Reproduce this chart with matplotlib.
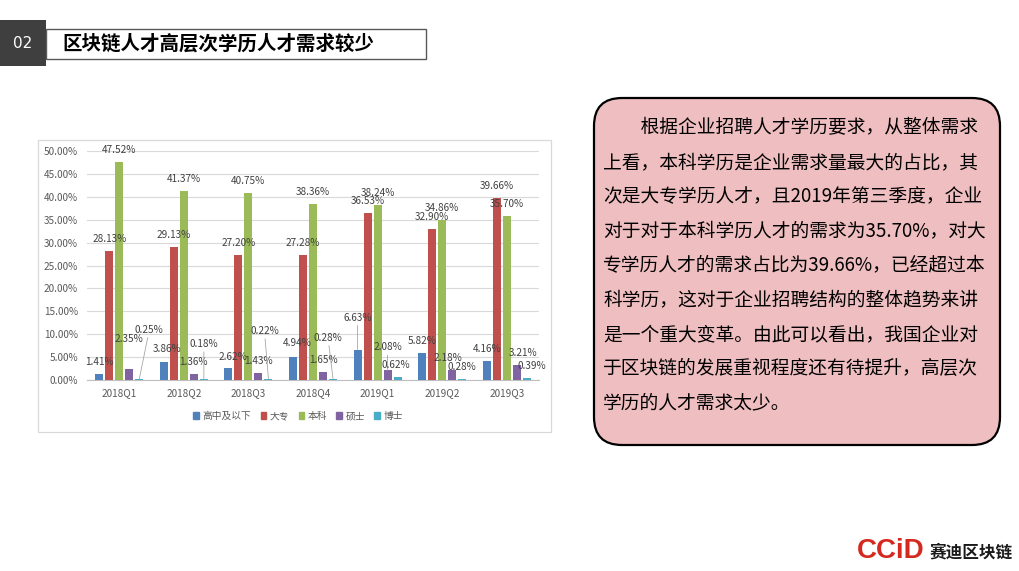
import matplotlib
matplotlib.use('Agg')
import numpy as np
import matplotlib.pyplot as plt
from matplotlib.patches import Rectangle, FancyBboxPatch, Patch

plt.rcParams['font.family'] = ['Noto Sans CJK SC', 'DejaVu Sans']

# 数据
quarters = ['2018Q1', '2018Q2', '2018Q3', '2018Q4', '2019Q1', '2019Q2', '2019Q3']
levels = ['高中及以下', '大专', '本科', '硕士', '博士']
high_school = [1.41, 3.86, 2.62, 4.94, 6.63, 5.82, 4.16]
junior_college = [28.13, 29.13, 27.20, 27.28, 36.53, 32.90, 39.66]
bachelor = [47.52, 41.37, 40.75, 38.36, 38.24, 34.86, 35.70]
master = [2.35, 1.36, 1.43, 1.65, 2.08, 2.18, 3.21]
doctor = [0.25, 0.18, 0.22, 0.28, 0.62, 0.28, 0.39]
series = [high_school, junior_college, bachelor, master, doctor]
colors = ['#4F81BD', '#C0504D', '#9BBB59', '#8064A2', '#4BACC6']

title = '区块链人才高层次学历人才需求较少'
paragraph = [
    '\u3000\u3000根据企业招聘人才学历要求，从整体需求',
    '上看，本科学历是企业需求量最大的占比，其',
    '次是大专学历人才，且2019年第三季度，企业',
    '对于对于本科学历人才的需求为35.70%，对大',
    '专学历人才的需求占比为39.66%，已经超过本',
    '科学历，这对于企业招聘结构的整体趋势来讲',
    '是一个重大变革。由此可以看出，我国企业对',
    '于区块链的发展重视程度还有待提升，高层次',
    '学历的人才需求太少。',
]

# 标签偏移 (series, quarter): (dx px, dy px, 引导线)
label_moves = {
    (3, 0): (0, 30, False),
    (4, 0): (10, 49, True),
    (0, 1): (3, 13, False),
    (4, 1): (0, 35, True),
    (0, 2): (5, 11, False),
    (4, 2): (-4, 48, True),
    (0, 3): (4, 14, False),
    (4, 3): (-5, 41, True),
    (0, 4): (0, 32, True),
    (3, 4): (0, 23, True),
    (4, 4): (-2, 12, False),
    (3, 5): (-4, 12, False),
    (3, 6): (6, 12, False),
    (4, 6): (5, 12, False),
}

W, H = 1019, 571
fig = plt.figure(figsize=(W / 100, H / 100), dpi=100)

bg = fig.add_axes([0, 0, 1, 1])
bg.set_xlim(0, W)
bg.set_ylim(H, 0)
bg.axis('off')

# 标题栏
bg.add_patch(Rectangle((0, 20), 46, 46, fc='#3F3F3F', ec='none'))
bg.text(23, 43, '02', color='white', fontsize=11, ha='center', va='center',
        family=['DejaVu Sans'])
bg.add_patch(Rectangle((46, 29), 380, 30, fill=False, ec='#595959', lw=1))
bg.text(62, 44, title, fontsize=14, weight='bold', ha='left', va='center', color='black')

# 图表外框
bg.add_patch(Rectangle((38, 140), 513, 292, fc='white', ec='#D9D9D9', lw=0.9))

# 文字框
bg.add_patch(FancyBboxPatch((594, 98), 406, 347,
                            boxstyle='round,pad=0,rounding_size=28',
                            fc='#EFBEC0', ec='black', lw=1.6))
for i, line in enumerate(paragraph):
    bg.text(603, 128 + 34.4 * i, line, fontsize=13.5, ha='left', va='center', color='black')

# logo
bg.text(857, 551, 'CCiD', color='#D5281F', fontsize=20, weight='bold',
        ha='left', va='center', family=['Liberation Sans', 'DejaVu Sans'])
bg.text(930, 552, '赛迪区块链', color='#1A1A1A', fontsize=12, weight='bold',
        ha='left', va='center')

# 柱状图
ax = fig.add_axes([87 / W, 1 - 380 / H, 452 / W, 229 / H])
ax.set_zorder(2)
ax.patch.set_alpha(0)
x = np.arange(len(quarters))
step = 0.155
width = 0.124
for i, vals in enumerate(series):
    xs = x + (i - 2) * step
    ax.bar(xs, vals, width=width, color=colors[i], zorder=3)
    for j, v in enumerate(vals):
        dx, dy, lead = label_moves.get((i, j), (0, 12, False))
        kw = {}
        if lead:
            kw['arrowprops'] = dict(arrowstyle='-', color='#A6A6A6', lw=0.6,
                                    shrinkA=0, shrinkB=0)
        ax.annotate(f'{v:.2f}%', xy=(xs[j], v), xytext=(dx * 0.72, dy * 0.72),
                    textcoords='offset points', ha='center', va='center',
                    fontsize=7.2, color='#404040', zorder=4, **kw)

ax.set_xlim(-0.5, len(quarters) - 0.5)
ax.set_ylim(0, 50)
yt = np.arange(0, 51, 5)
ax.set_yticks(yt)
ax.set_yticklabels([f'{v:.2f}%' for v in yt])
ax.set_xticks(x)
ax.set_xticklabels(quarters)
ax.tick_params(length=0, labelsize=7.2, colors='#595959')
ax.tick_params(axis='y', pad=6.5)
ax.tick_params(axis='x', pad=6)
ax.grid(axis='y', color='#D9D9D9', lw=0.8, zorder=0)
for s in ['left', 'right', 'top']:
    ax.spines[s].set_visible(False)
ax.spines['bottom'].set_color('#BFBFBF')
ax.spines['bottom'].set_linewidth(0.8)

handles = [Patch(color=c) for c in colors]
leg = fig.legend(handles, levels, loc='center', bbox_to_anchor=(298 / W, 1 - 416 / H),
                 ncol=5, frameon=False, fontsize=7, handlelength=0.6, handleheight=0.6,
                 handletextpad=0.3, columnspacing=1.0)
for t in leg.get_texts():
    t.set_color('#595959')

fig.savefig('out.png', dpi=100)
